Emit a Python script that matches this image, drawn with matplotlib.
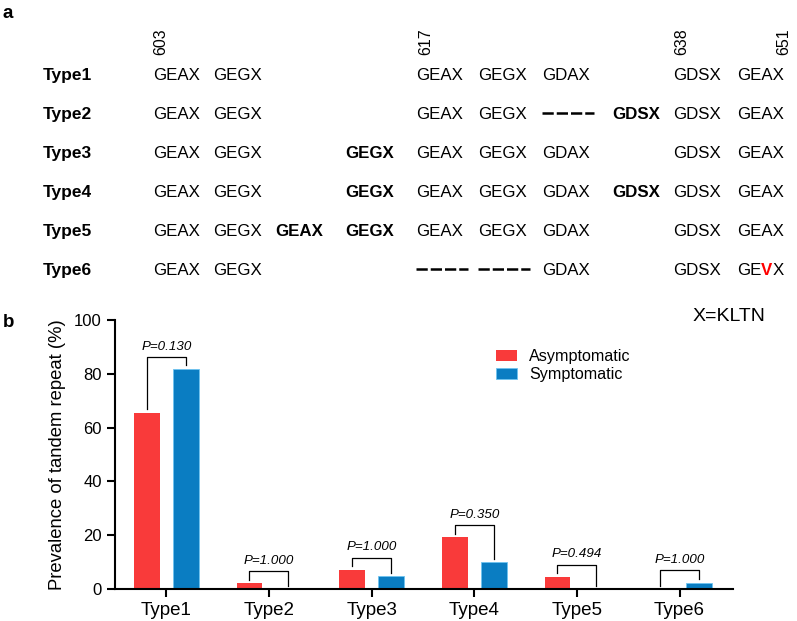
import numpy as np
import matplotlib
matplotlib.use('Agg')
import matplotlib.pyplot as plt

plt.rcParams['font.family'] = ['Liberation Sans', 'DejaVu Sans']

# Datos del panel a (motivos de la repeticion en tandem)
tipos = ['Type1', 'Type2', 'Type3', 'Type4', 'Type5', 'Type6']
posiciones = ['603', '617', '638', '651']
# '*' = negrita, '-' = delecion, '' = vacio
fila1 = ['GEAX', 'GEGX', '', '', 'GEAX', 'GEGX', 'GDAX', '', 'GDSX', 'GEAX']
fila2 = ['GEAX', 'GEGX', '', '', 'GEAX', 'GEGX', '-', '*GDSX', 'GDSX', 'GEAX']
fila3 = ['GEAX', 'GEGX', '', '*GEGX', 'GEAX', 'GEGX', 'GDAX', '', 'GDSX', 'GEAX']
fila4 = ['GEAX', 'GEGX', '', '*GEGX', 'GEAX', 'GEGX', 'GDAX', '*GDSX', 'GDSX', 'GEAX']
fila5 = ['GEAX', 'GEGX', '*GEAX', '*GEGX', 'GEAX', 'GEGX', 'GDAX', '', 'GDSX', 'GEAX']
fila6 = ['GEAX', 'GEGX', '', '', '-', '-', 'GDAX', '', 'GDSX', 'GE|V|X']
filas = [fila1, fila2, fila3, fila4, fila5, fila6]

# Datos del panel b
asintomatico = [65.5, 2.2, 7.1, 19.2, 4.6, 0.0]
sintomatico = [81.8, 0.0, 4.8, 10.0, 0.0, 2.4]
valores_p = ['0.130', '1.000', '1.000', '0.350', '0.494', '1.000']

rojo = '#F93A3A'
azul = '#0A7DC2'

fig = plt.figure(figsize=(7.97, 6.21), dpi=100)

# ---- Panel a: tabla de texto en coordenadas de pixel ----
ax_a = fig.add_axes([0, 1 - 300 / 621, 1, 300 / 621])
ax_a.set_xlim(0, 797)
ax_a.set_ylim(300, 0)
ax_a.set_axis_off()

col_x = [153, 213, 275, 345, 416, 478, 542, 612, 673, 737]
pos_x = [161, 426, 682, 784]
ancho_motivo = 52
fs = 12.2

ax_a.text(3, 18, 'a', fontsize=13.5, fontweight='bold', va='baseline')
for x, p in zip(pos_x, posiciones):
    ax_a.text(x, 55, p, rotation=90, ha='center', va='bottom', fontsize=11.5)

for i, (tipo, fila) in enumerate(zip(tipos, filas)):
    yb = 80 + 39 * i
    ax_a.text(43, yb, tipo, fontsize=12.5, fontweight='bold', va='baseline')
    for x, m in zip(col_x, fila):
        if m == '':
            continue
        if m == '-':
            ax_a.plot([x, x + ancho_motivo], [yb - 6, yb - 6], color='black',
                      lw=1.8, dashes=(4.5, 1.2), solid_capstyle='butt',
                      dash_capstyle='butt')
        elif '|' in m:
            a, b, c = m.split('|')
            t1 = ax_a.text(x, yb, a, fontsize=fs, va='baseline')
            t2 = ax_a.annotate(b, xy=(1, 0), xycoords=t1, fontsize=fs,
                               fontweight='bold', color='red', va='bottom')
            ax_a.annotate(c, xy=(1, 0), xycoords=t2, fontsize=fs, va='bottom')
        elif m.startswith('*'):
            ax_a.text(x, yb, m[1:], fontsize=fs, fontweight='bold', va='baseline')
        else:
            ax_a.text(x, yb, m, fontsize=fs, va='baseline')

# ---- Panel b: grafico de barras ----
ax = fig.add_axes([115 / 797, 1 - 589 / 621, (733 - 115) / 797, (589 - 320) / 621])
x = np.arange(len(tipos))
w = 0.25
d = 0.19
ax.bar(x - d, asintomatico, w, color=rojo, label='Asymptomatic')
ax.bar(x + d, sintomatico, w, color=azul, edgecolor='#6EC3F0', linewidth=0.6,
       label='Symptomatic')

for i in range(len(tipos)):
    a, s = asintomatico[i], sintomatico[i]
    top = max(a, s) + 4.5
    ax.plot([x[i] - d, x[i] - d, x[i] + d, x[i] + d],
            [a + 1.3, top, top, s + 1.3], color='black', lw=0.9)
    ax.text(x[i], top + 1.6, 'P=' + valores_p[i], ha='center', va='bottom',
            fontsize=9.6, style='italic')

ax.set_xlim(-0.5, 5.52)
ax.set_ylim(0, 100)
ax.set_yticks([0, 20, 40, 60, 80, 100])
ax.set_xticks(x)
ax.set_xticklabels(tipos)
ax.tick_params(width=1.5, length=6, direction='out')
ax.tick_params(axis='x', labelsize=13.5)
ax.tick_params(axis='y', labelsize=12)
ax.set_ylabel('Prevalence of tandem repeat (%)', fontsize=13.3, labelpad=6)
for lado in ['top', 'right']:
    ax.spines[lado].set_visible(False)
for lado in ['left', 'bottom']:
    ax.spines[lado].set_linewidth(1.5)

ax.legend(loc='upper left', bbox_to_anchor=(496 / 797, 1 - 349 / 621),
          bbox_transform=fig.transFigure, frameon=False, fontsize=11.6,
          handlelength=1.3, handleheight=0.62, handletextpad=0.75,
          labelspacing=0.2, borderpad=0, borderaxespad=0)

fig.text(3 / 797, 1 - 327 / 621, 'b', fontsize=13.5, fontweight='bold')
fig.text(693 / 797, 1 - 321 / 621, 'X=KLTN', fontsize=14)

fig.savefig('out.png', dpi=100)
